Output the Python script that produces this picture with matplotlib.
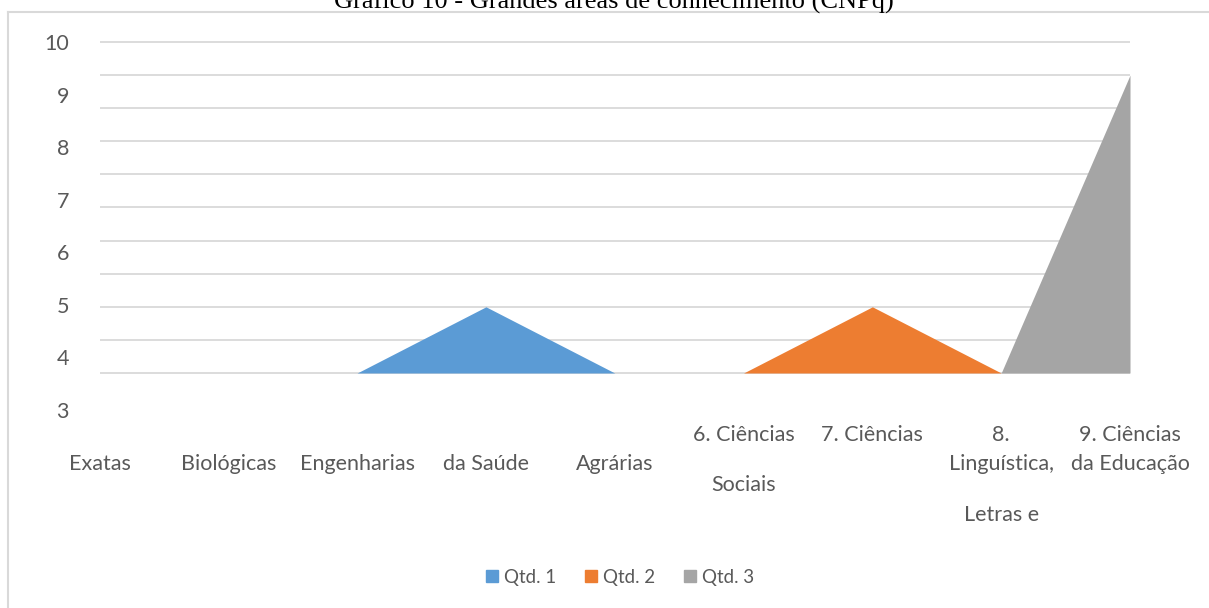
import matplotlib.pyplot as plt
import matplotlib.transforms as mtransforms
from matplotlib.patches import Patch
from matplotlib.lines import Line2D
import numpy as np

# Data
categories = ["Exatas", "Biológicas", "Engenharias", "da Saúde", "Agrárias",
              "6. Ciências\nSociais", "7. Ciências", "8.\nLinguística,\nLetras e",
              "9. Ciências\nda Educação"]
qtd1 = [0, 0, 0, 2, 0, 0, 0, 0, 0]
qtd2 = [0, 0, 0, 0, 0, 0, 2, 0, 0]
qtd3 = [0, 0, 0, 0, 0, 0, 0, 0, 9]
series_names = ["Qtd. 1", "Qtd. 2", "Qtd. 3"]
ytick_labels = [10, 9, 8, 7, 6, 5, 4, 3]

colors = ["#5B9BD5", "#ED7D31", "#A5A5A5"]
text_color = "#595959"
grid_color = "#D9D9D9"
font = "Lato"
fs = 15.5

W, H = 1209, 608
fig = plt.figure(figsize=(W / 100, H / 100), dpi=100)

# axes geometry in pixels (value 0 at y=373, 10 at y=42)
y0, ppu = 373, 33.1
ylo, yhi = -1.5, 10.1
left_px, right_px = 99.5, 1130
top_px = y0 - yhi * ppu
bot_px = y0 - ylo * ppu
ax = fig.add_axes([left_px / W, 1 - bot_px / H, (right_px - left_px) / W, (bot_px - top_px) / H])

x = np.arange(len(categories))
for vals, c, name in zip([qtd1, qtd2, qtd3], colors, series_names):
    ax.fill_between(x, 0, vals, color=c, lw=0, zorder=3)

ax.set_xlim(0, len(categories) - 1)
ax.set_ylim(ylo, yhi)

# gridlines every unit
for g in range(0, 11):
    ax.axhline(g, color=grid_color, lw=1.3, zorder=1)

# the value labels as rendered (spread wider than the gridlines)
label_step = (410 - 42) / 7 / ppu
ax.set_yticks([10 - (10 - v) * label_step for v in ytick_labels])
ax.set_yticklabels([str(v) for v in ytick_labels], fontsize=fs, color=text_color, family=font)
ax.tick_params(axis="y", length=0, pad=22)
ax.set_xticks([])
for s in ax.spines.values():
    s.set_visible(False)

# category labels, broken over lines
trans = mtransforms.blended_transform_factory(ax.transData, fig.transFigure)
rows = [[464], [464], [464], [464], [464], [435, 485], [435], [435, 464, 515], [435, 464]]
for i, (lab, ys) in enumerate(zip(categories, rows)):
    for line, ypx in zip(lab.split("\n"), ys):
        ax.text(i, 1 - ypx / H, line, transform=trans, ha="center", va="center",
                fontsize=fs, color=text_color, family=font, clip_on=False)

# title (cut off at the top as in the original)
fig.text(614 / W, 1 - 9 / H, "Gráfico 10 - Grandes áreas de conhecimento (CNPq)",
         ha="center", va="baseline", fontsize=19, family="Liberation Serif", color="black")

# chart border (left and top only)
fig.add_artist(Line2D([8 / W, 8 / W], [0, 1 - 12 / H], transform=fig.transFigure, color=grid_color, lw=1.5))
fig.add_artist(Line2D([8 / W, 1], [1 - 12 / H, 1 - 12 / H], transform=fig.transFigure, color=grid_color, lw=1.5))

handles = [Patch(color=c, label=n) for c, n in zip(colors, series_names)]
leg = fig.legend(handles=handles, loc="center", bbox_to_anchor=(620 / W, 1 - 577 / H), ncol=3,
                 frameon=False, handlelength=0.65, handleheight=0.65,
                 handletextpad=0.35, columnspacing=1.5, prop={"family": font, "size": 13.5})
for t in leg.get_texts():
    t.set_color(text_color)

fig.savefig("out.png", dpi=100)
